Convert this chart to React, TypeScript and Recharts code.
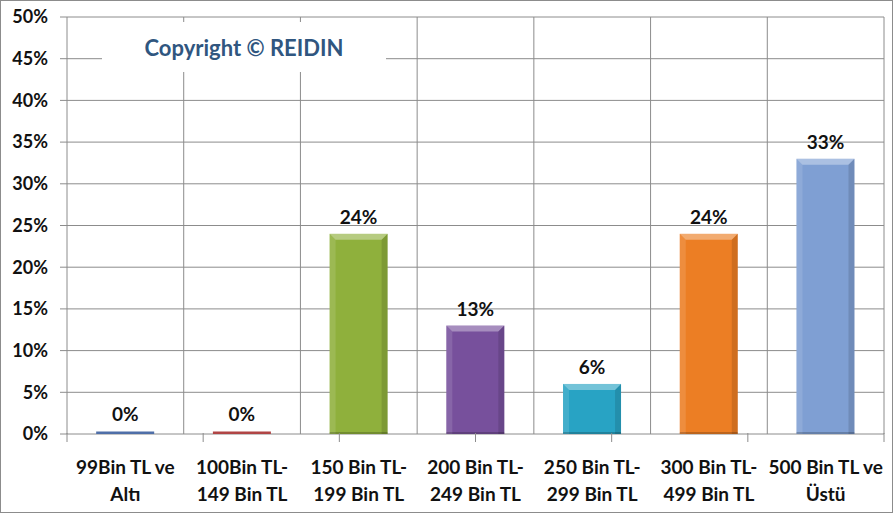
import React from 'react';
import {
  BarChart, Bar, XAxis, YAxis, CartesianGrid, LabelList,
} from 'recharts';

const categories = [
  '99Bin TL ve\nAltı',
  '100Bin TL-\n149 Bin TL',
  '150 Bin TL-\n199 Bin TL',
  '200 Bin TL-\n249 Bin TL',
  '250 Bin TL-\n299 Bin TL',
  '300 Bin TL-\n499 Bin TL',
  '500 Bin TL ve\nÜstü',
];
// the 0% groups are drawn as a hairline in the original
const shares = [0.3, 0.3, 24, 13, 6, 24, 33];
const valueLabels = ['0%', '0%', '24%', '13%', '6%', '24%', '33%'];
const barColors = ['#4f6fa8', '#b04545', '#8fb03c', '#77509c', '#28a3c4', '#ec7e24', '#7f9fd3'];
const yTicks = [0, 5, 10, 15, 20, 25, 30, 35, 40, 45, 50];
const categoryBounds = [0, 1, 2, 3, 4, 5, 6, 7];

const data = categories.map((name, i) => ({
  name,
  share: shares[i],
  label: valueLabels[i],
}));

const FONT = 'Lato, "Open Sans", sans-serif';
const GRID = '#8c8c8c';

const BevelBar = (props: any) => {
  const { x, y, width, height, index } = props;
  const c = barColors[index];
  if (height < 8) return <rect x={x} y={y} width={width} height={height} fill={c} />;
  const b = 6;
  return (
    <g>
      <rect x={x} y={y} width={width} height={height} fill={c} />
      <polygon
        points={`${x},${y} ${x + width},${y} ${x + width - b},${y + b} ${x + b},${y + b}`}
        fill="#ffffff" fillOpacity={0.35}
      />
      <polygon
        points={`${x},${y} ${x + b},${y + b} ${x + b},${y + height} ${x},${y + height}`}
        fill="#ffffff" fillOpacity={0.12}
      />
      <polygon
        points={`${x + width},${y} ${x + width - b},${y + b} ${x + width - b},${y + height} ${x + width},${y + height}`}
        fill="#000000" fillOpacity={0.12}
      />
      <rect x={x} y={y + height - 2} width={width} height={2} fill="#000000" fillOpacity={0.2} />
    </g>
  );
};

const CatTick = (props: any) => {
  const { x, y, payload } = props;
  const lines = String(payload.value).split('\n');
  return (
    <text x={x} y={y} textAnchor="middle" fill="#111"
      style={{ fontFamily: FONT, fontWeight: 700, fontSize: 19 }}>
      {lines.map((l, i) => (
        <tspan key={i} x={x} dy={i === 0 ? 31 : 27}>{l}</tspan>
      ))}
    </text>
  );
};

// draws only the small downward stub at each category boundary
const BoundTick = (props: any) => {
  const { x, y } = props;
  return <line x1={x} x2={x} y1={y - 1} y2={y + 8} stroke={GRID} />;
};

export default function App() {
  return (
    <div style={{
      position: 'absolute', left: 0, top: 0, width: 893, height: 513,
      background: '#fff', boxSizing: 'border-box', border: '1px solid #8c8c8c',
    }}>
      <BarChart
        width={891}
        height={511}
        data={data}
        margin={{ top: 16, right: 8, left: 6, bottom: 8 }}
        barCategoryGap="25%"
      >
        <CartesianGrid
          stroke={GRID}
          verticalCoordinatesGenerator={({ offset }: any) =>
            categoryBounds.map((b) => offset.left + (b * offset.width) / categories.length)}
        />
        <XAxis
          xAxisId="a-bounds" type="number" domain={[0, categories.length]} ticks={categoryBounds}
          allowDataOverflow height={1} tick={<BoundTick />} axisLine={false}
          tickLine={false} tickSize={0} tickMargin={0} interval={0}
        />
        <XAxis
          xAxisId="b-cat" dataKey="name" height={69} interval={0}
          tickLine={false} axisLine={false} tick={<CatTick />}
        />
        <YAxis
          domain={[0, 50]} ticks={yTicks} width={60} interval={0}
          tickFormatter={(v) => `${v}%`} axisLine={false}
          tickLine={{ stroke: GRID }} tickSize={7} tickMargin={12}
          tick={{ fill: '#111', fontFamily: FONT, fontWeight: 700, fontSize: 18 }}
        />
        <Bar dataKey="share" xAxisId="b-cat" isAnimationActive={false} shape={<BevelBar />}>
          <LabelList
            dataKey="label" position="top" offset={10}
            style={{ fill: '#111', fontFamily: FONT, fontWeight: 700, fontSize: 19 }}
          />
        </Bar>
      </BarChart>
      <div style={{
        position: 'absolute', left: 101, top: 21, width: 284, height: 50,
        background: '#fff', display: 'flex', alignItems: 'center', justifyContent: 'center',
        fontFamily: FONT, fontWeight: 700, fontSize: 22, color: '#30567f',
      }}>
        Copyright © REIDIN
      </div>
    </div>
  );
}
